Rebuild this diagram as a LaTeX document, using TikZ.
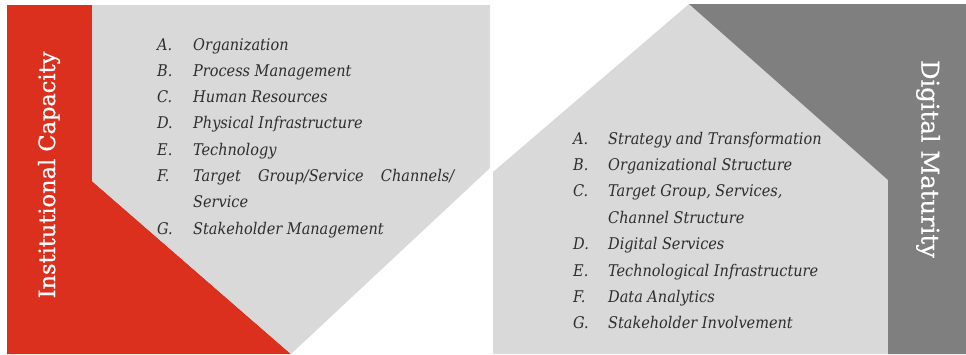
\documentclass[tikz,border=0pt]{standalone}
\usepackage{fontspec}
\setmainfont{DejaVu Serif}
\newfontfamily\listfont{DejaVu Serif Condensed}
\definecolor{capred}{RGB}{220,48,30}
\definecolor{panelgray}{RGB}{217,217,217}
\definecolor{darkgray}{RGB}{127,127,127}
\definecolor{listtext}{RGB}{45,45,45}
\begin{document}
\begin{tikzpicture}[x=1pt,y=-1pt,
  letter/.style={anchor=base west,inner sep=0pt,text=listtext,
    font=\listfont\fontsize{16.1}{18}\selectfont\itshape},
  entry/.style={letter},
  sidetitle/.style={inner sep=0pt,text=white,
    font=\fontsize{22.5}{24}\selectfont\addfontfeature{FakeBold=0.6}}]
\useasboundingbox (0,0) rectangle (966,354);

% left panel: red band with gray list field
\fill[capred] (7,5) -- (92,5) -- (92,181) -- (291,354) -- (7,354) -- cycle;
\fill[panelgray] (92,5) -- (490,5) -- (490,168) -- (291,354) -- (92,181) -- cycle;

% right panel: gray list field with dark band
\fill[panelgray] (493,172) -- (689,4) -- (888,180) -- (888,354) -- (493,354) -- cycle;
\fill[darkgray] (689,4) -- (966,4) -- (966,354) -- (888,354) -- (888,180) -- cycle;

% side titles
\node[sidetitle,rotate=90] (ictitle) at (49,175) {Institutional Capacity};
\node[sidetitle,rotate=-90,font=\fontsize{24.3}{26}\selectfont\addfontfeature{FakeBold=0.6}]
  (dmtitle) at (928,159) {Digital Maturity};

% institutional capacity list
\foreach \l/\t/\y [count=\i] in {
  A./Organization/50,
  B./Process Management/76.3,
  C./Human Resources/102.6,
  D./Physical Infrastructure/128.9,
  E./Technology/155.2,
  G./Stakeholder Management/234.1}{
  \node[letter] (icl\i) at (157,\y) {\l};
  \node[entry] (ice\i) at (193,\y) {\t};
}
\node[letter] (iclf) at (157,181.5) {F.};
\node[entry] (icef) at (193,181.5) {\hbox to 261pt{Target\hfil Group/Service\hfil Channels/}};
\node[entry] (icefb) at (193,207.8) {Service};

% digital maturity list
\foreach \l/\t/\y [count=\i] in {
  A./Strategy and Transformation/144,
  B./Organizational Structure/170.4,
  C./{Target Group, Services,}/196.8,
  D./Digital Services/249.6,
  E./Technological Infrastructure/276,
  F./Data Analytics/302.4,
  G./Stakeholder Involvement/328.8}{
  \node[letter] (dml\i) at (573,\y) {\l};
  \node[entry] (dme\i) at (608,\y) {\t};
}
\node[entry] (dmec) at (608,223.2) {Channel Structure};
\end{tikzpicture}
\end{document}
